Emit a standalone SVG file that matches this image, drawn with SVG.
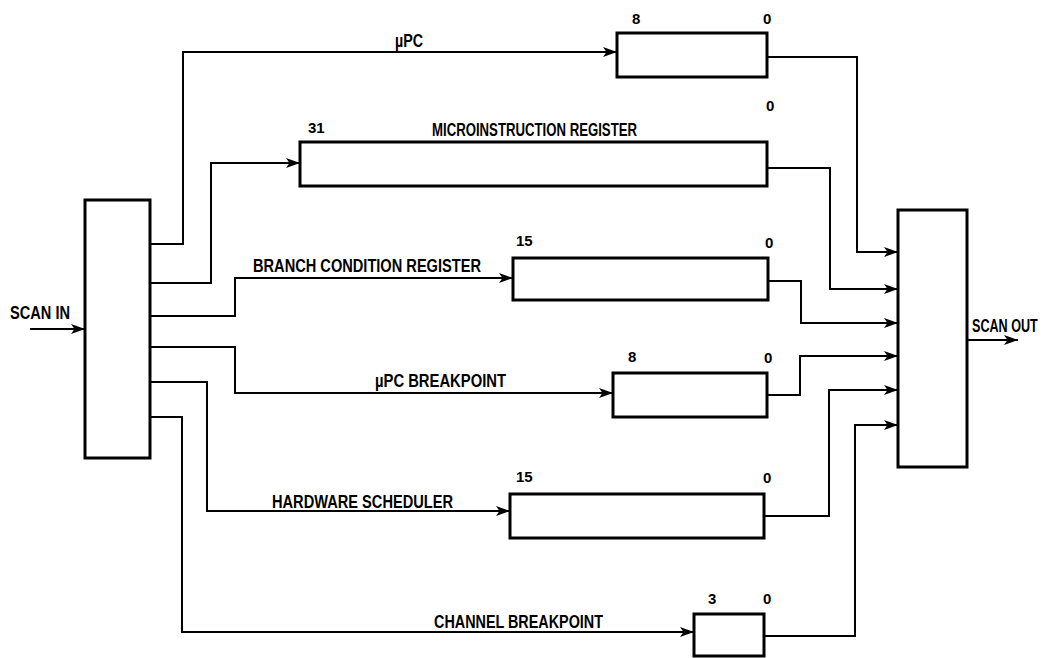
<svg xmlns="http://www.w3.org/2000/svg" width="1047" height="658" viewBox="0 0 1047 658">
<style>
.box{fill:#fff;stroke:#000;stroke-width:3}
.wire{fill:none;stroke:#000;stroke-width:2}
.lbl{font-family:"Liberation Sans",Arial,sans-serif;font-size:18px;font-weight:bold;fill:#000}
.num{font-family:"Liberation Sans",Arial,sans-serif;font-size:15px;font-weight:bold;fill:#000}
</style>
<defs>
<marker id="arr" markerUnits="userSpaceOnUse" markerWidth="16" markerHeight="12" refX="14" refY="6" orient="auto">
<path d="M0,1 L14,6 L0,11 L3.5,6 z" fill="#000"/>
</marker>
</defs>
<rect width="1047" height="658" fill="#fff"/>
<g id="connectors">
<path class="wire" d="M30,329 H85" marker-end="url(#arr)"/>
<path class="wire" d="M150,244 H183 V52 H617" marker-end="url(#arr)"/>
<path class="wire" d="M150,283 H211 V163 H300" marker-end="url(#arr)"/>
<path class="wire" d="M150,316 H235 V278 H513" marker-end="url(#arr)"/>
<path class="wire" d="M150,347 H235 V393 H613" marker-end="url(#arr)"/>
<path class="wire" d="M150,382 H207 V511 H510" marker-end="url(#arr)"/>
<path class="wire" d="M150,417 H182 V632 H694" marker-end="url(#arr)"/>
<path class="wire" d="M767,57 H857 V252 H898" marker-end="url(#arr)"/>
<path class="wire" d="M767,168 H830 V289 H898" marker-end="url(#arr)"/>
<path class="wire" d="M768,281 H801 V323 H898" marker-end="url(#arr)"/>
<path class="wire" d="M767,395 H800 V356 H898" marker-end="url(#arr)"/>
<path class="wire" d="M764,516 H829 V390 H898" marker-end="url(#arr)"/>
<path class="wire" d="M764,636 H855 V425 H898" marker-end="url(#arr)"/>
<path class="wire" d="M967,340 H1018" marker-end="url(#arr)"/>
</g>
<g id="scan-in-block"><rect class="box" x="85" y="200" width="65" height="258"/></g>
<g id="scan-out-block"><rect class="box" x="898" y="210" width="69" height="257"/></g>
<g id="upc">
<rect class="box" x="617" y="33" width="150" height="44"/>
<text class="num" x="632" y="24">8</text><text class="num" x="763" y="24">0</text>
</g>
<g id="microinstruction-register">
<rect class="box" x="300" y="142" width="467" height="44"/>
<text class="num" x="308" y="133">31</text><text class="num" x="766" y="111">0</text>
</g>
<g id="branch-condition-register">
<rect class="box" x="513" y="258" width="255" height="42"/>
<text class="num" x="516" y="246">15</text><text class="num" x="765" y="248">0</text>
</g>
<g id="upc-breakpoint">
<rect class="box" x="613" y="373" width="154" height="44"/>
<text class="num" x="628" y="362">8</text><text class="num" x="764" y="363">0</text>
</g>
<g id="hardware-scheduler">
<rect class="box" x="510" y="494" width="254" height="44"/>
<text class="num" x="516" y="482">15</text><text class="num" x="763" y="483">0</text>
</g>
<g id="channel-breakpoint">
<rect class="box" x="694" y="614" width="70" height="42"/>
<text class="num" x="708" y="604">3</text><text class="num" x="763" y="604">0</text>
</g>
<g id="labels">
<text class="lbl" x="395" y="47" textLength="28" lengthAdjust="spacingAndGlyphs">µPC</text>
<text class="lbl" x="432" y="136" textLength="205" lengthAdjust="spacingAndGlyphs">MICROINSTRUCTION REGISTER</text>
<text class="lbl" x="253" y="272" textLength="228" lengthAdjust="spacingAndGlyphs">BRANCH CONDITION REGISTER</text>
<text class="lbl" x="375" y="387" textLength="131" lengthAdjust="spacingAndGlyphs">µPC BREAKPOINT</text>
<text class="lbl" x="272" y="508" textLength="181" lengthAdjust="spacingAndGlyphs">HARDWARE SCHEDULER</text>
<text class="lbl" x="434" y="628" textLength="169" lengthAdjust="spacingAndGlyphs">CHANNEL BREAKPOINT</text>
<text class="lbl" x="10" y="319" textLength="60" lengthAdjust="spacingAndGlyphs">SCAN IN</text>
<text class="lbl" transform="translate(972,332) scale(0.7,1)" x="0" y="0">SCAN OUT</text>
</g>
</svg>
